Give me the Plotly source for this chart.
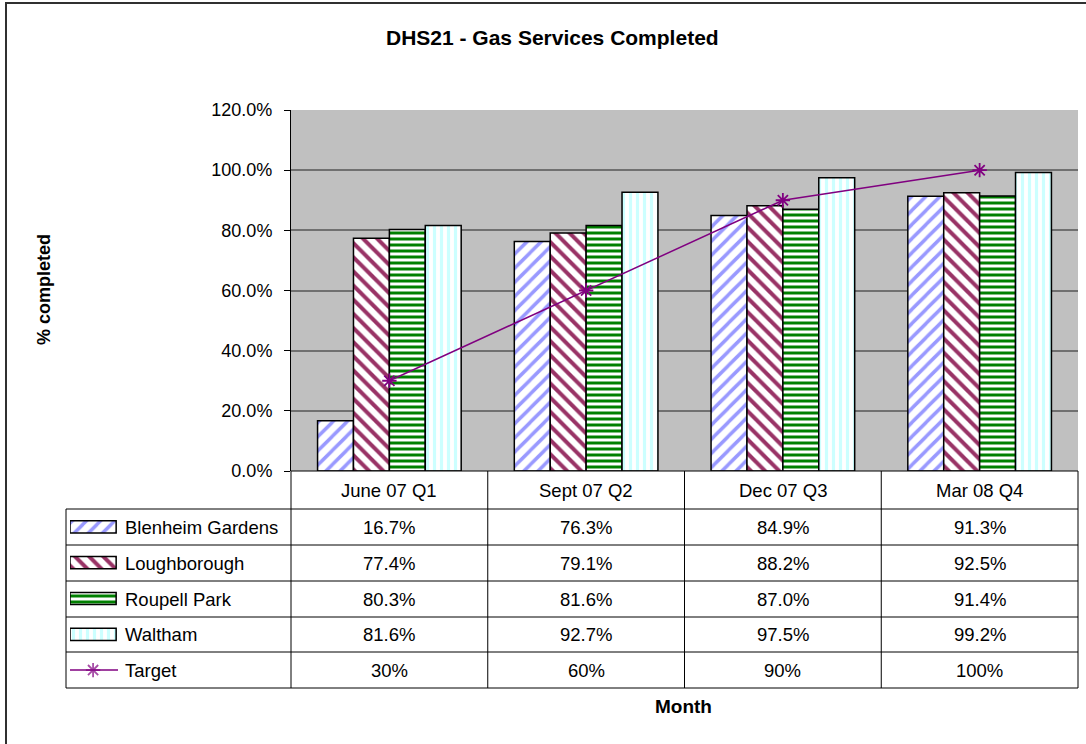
import plotly.graph_objects as go

# chart data
categories = ['June 07 Q1', 'Sept 07 Q2', 'Dec 07 Q3', 'Mar 08 Q4']
blenheim = [16.7, 76.3, 84.9, 91.3]
loughborough = [77.4, 79.1, 88.2, 92.5]
roupell = [80.3, 81.6, 87.0, 91.4]
waltham = [81.6, 92.7, 97.5, 99.2]
target = [30, 60, 90, 100]

y_ticks = [0, 20, 40, 60, 80, 100, 120]

W, H = 1086, 744
FONT = 'Liberation Sans, Arial, sans-serif'


def px(x):
    return x / W


def py(y):
    return 1 - y / H


# plot area and table geometry (pixels)
PLOT_L, PLOT_R, PLOT_T, PLOT_B = 291, 1078, 110, 471
HEAD_B = 509
TABLE_B = 688
KEY_L = 66
row_lines = [509, 545, 581, 617, 652, 688]

series = [
    ('Blenheim Gardens', blenheim, dict(shape='/', fgcolor='#9999FF', size=10, solidity=0.35)),
    ('Loughborough', loughborough, dict(shape='\\', fgcolor='#993366', size=10, solidity=0.4)),
    ('Roupell Park', roupell, dict(shape='-', fgcolor='#008000', size=6, solidity=0.5)),
    ('Waltham', waltham, dict(shape='|', fgcolor='#CCFFFF', size=7, solidity=0.45)),
]
row_names = [s[0] for s in series] + ['Target']

fig = go.Figure()

for name, vals, pat in series:
    fig.add_trace(go.Bar(
        x=categories,
        y=[v / 100 for v in vals],
        name=name,
        marker=dict(color='white', line=dict(color='black', width=1.5),
                    pattern=dict(bgcolor='white', fillmode='replace', **pat)),
        showlegend=False,
    ))

fig.add_trace(go.Scatter(
    x=categories,
    y=[v / 100 for v in target],
    name='Target',
    mode='lines+markers',
    line=dict(color='#800080', width=1.5),
    marker=dict(symbol='asterisk-open', size=12, line=dict(color='#800080', width=1.8)),
    showlegend=False,
))

# legend keys inside the table (auxiliary axes)
for name, vals, pat in series:
    fig.add_trace(go.Bar(
        x=[1], y=[name], base=0, orientation='h', width=0.34,
        marker=dict(color='white', line=dict(color='black', width=1.5),
                    pattern=dict(bgcolor='white', fillmode='replace', **pat)),
        xaxis='x2', yaxis='y2', showlegend=False, hoverinfo='skip',
    ))
fig.add_trace(go.Scatter(
    x=[0, 0.5, 1.04], y=['Target'] * 3, mode='lines+markers',
    line=dict(color='#800080', width=1.5),
    marker=dict(symbol='asterisk-open', size=[0, 12, 0], line=dict(color='#800080', width=1.8)),
    xaxis='x2', yaxis='y2', showlegend=False, hoverinfo='skip',
))

shapes = []
line_k = dict(color='black', width=1)
# grey plot area
shapes.append(dict(type='rect', xref='x domain', yref='y domain', x0=0, x1=1, y0=0, y1=1,
                   fillcolor='#C0C0C0', line=dict(width=0), layer='below'))
# outer chart border
shapes.append(dict(type='rect', xref='paper', yref='paper', x0=px(6), x1=px(W + 10),
                   y0=py(H + 10), y1=py(3), line=dict(color='#303030', width=2)))
# table column lines
for xl in [PLOT_L + i * (PLOT_R - PLOT_L) / 4 for i in range(5)]:
    shapes.append(dict(type='line', xref='paper', yref='paper', x0=px(xl), x1=px(xl),
                       y0=py(PLOT_B), y1=py(TABLE_B), line=line_k))
shapes.append(dict(type='line', xref='paper', yref='paper', x0=px(KEY_L), x1=px(KEY_L),
                   y0=py(HEAD_B), y1=py(TABLE_B), line=line_k))
for yl in row_lines:
    shapes.append(dict(type='line', xref='paper', yref='paper', x0=px(KEY_L), x1=px(PLOT_R),
                       y0=py(yl), y1=py(yl), line=line_k))
shapes.append(dict(type='line', xref='paper', yref='paper', x0=px(PLOT_L), x1=px(PLOT_R),
                   y0=py(PLOT_B), y1=py(PLOT_B), line=line_k))

annotations = []
text_font = dict(family=FONT, size=18.5, color='black')
for c in categories:
    annotations.append(dict(x=c, xref='x', y=py((PLOT_B + HEAD_B) / 2), yref='paper',
                            xanchor='center', yanchor='middle',
                            text=c, showarrow=False, font=text_font))
table_rows = [blenheim, loughborough, roupell, waltham]
for r, vals in enumerate(table_rows + [target]):
    yc = py((row_lines[r] + row_lines[r + 1]) / 2)
    for c, v in zip(categories, vals):
        txt = f'{v:.0f}%' if r == 4 else f'{v:.1f}%'
        annotations.append(dict(x=c, xref='x', y=yc, yref='paper', text=txt,
                                xanchor='center', yanchor='middle',
                                showarrow=False, font=text_font))
    annotations.append(dict(x=px(123), xref='paper', y=yc, yref='paper', text=row_names[r],
                            xanchor='left', yanchor='middle', showarrow=False, font=text_font))

annotations.append(dict(x=px(552), y=py(38), xref='paper', yref='paper',
                        xanchor='center', yanchor='middle',
                        text='<b>DHS21 - Gas Services Completed</b>', showarrow=False,
                        font=dict(family=FONT, size=21, color='black')))
annotations.append(dict(x=px(684), y=py(706), xref='paper', yref='paper',
                        xanchor='center', yanchor='middle',
                        text='<b>Month</b>', showarrow=False,
                        font=dict(family=FONT, size=19, color='black')))
annotations.append(dict(x=px(44), y=py(290), xref='paper', yref='paper',
                        xanchor='center', yanchor='middle',
                        text='<b>% completed</b>', showarrow=False, textangle=-90,
                        font=dict(family=FONT, size=18, color='black')))

fig.update_layout(
    width=W, height=H,
    margin=dict(l=0, r=0, t=0, b=0, autoexpand=False),
    paper_bgcolor='white',
    plot_bgcolor='white',
    font=dict(family=FONT, size=18, color='black'),
    barmode='group',
    bargap=0.27,
    bargroupgap=0,
    xaxis=dict(domain=[px(PLOT_L), px(PLOT_R)], range=[-0.5, 3.5], showticklabels=False,
               showgrid=False, zeroline=False, ticks='', automargin=False),
    yaxis=dict(domain=[py(PLOT_B), py(PLOT_T)], range=[0, 1.2], tickvals=[v / 100 for v in y_ticks],
               tickformat='.1%', showgrid=True, gridcolor='#707070', gridwidth=1.5,
               zeroline=False, showline=True, linecolor='black', linewidth=1,
               ticks='outside', ticklen=6, tickcolor='black', ticklabelstandoff=8,
               automargin=False,
               tickfont=dict(family=FONT, size=18, color='black')),
    xaxis2=dict(domain=[px(70), px(118)], range=[0, 1.04], visible=False, automargin=False),
    yaxis2=dict(domain=[py(TABLE_B), py(HEAD_B)], categoryorder='array',
                categoryarray=row_names[::-1], range=[-0.5, 4.5], visible=False,
                automargin=False),
    shapes=shapes,
    annotations=annotations,
)

fig.write_html('out.html', config={'displayModeBar': False},
               post_script="document.body.style.margin='0';")
